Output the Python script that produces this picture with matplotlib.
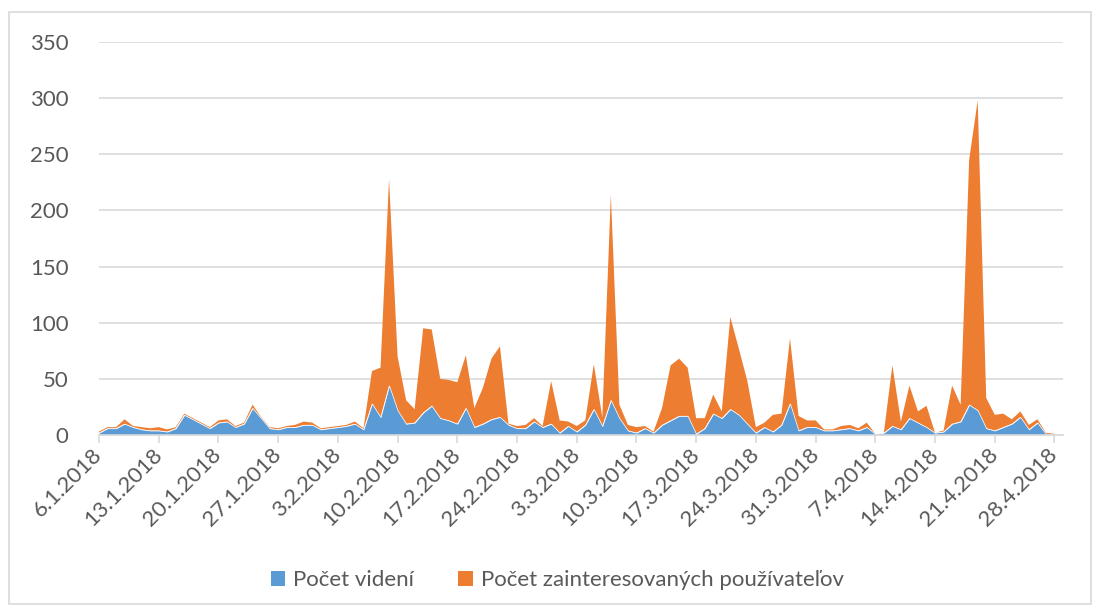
import numpy as np
import pandas as pd
import matplotlib
matplotlib.use('Agg')
import matplotlib.pyplot as plt
from matplotlib.patches import Patch, Rectangle

# Denné hodnoty od 6.1.2018 do 28.4.2018
dates = pd.date_range('2018-01-06', '2018-04-28', freq='D')

videnia = [
    2, 6, 6, 10, 7, 5, 4, 4, 3, 6, 18, 14, 10, 6, 11, 12, 7, 10, 24, 15,
    6, 5, 7, 7, 9, 9, 5, 6, 7, 8, 10, 5, 28, 16, 44, 22, 10, 11, 20, 26,
    15, 13, 10, 24, 7, 10, 14, 16, 9, 6, 6, 12, 7, 10, 2, 8, 3, 9, 23, 8,
    31, 15, 4, 2, 6, 2, 9, 13, 17, 17, 1, 6, 19, 15, 23, 18, 10, 2, 7, 3,
    9, 28, 4, 7, 7, 4, 4, 5, 6, 4, 7, 1, 2, 8, 5, 15, 11, 7, 2, 3,
    10, 12, 27, 22, 6, 4, 7, 10, 16, 5, 11, 1, 0,
]
zainteresovani = [
    1, 1, 1, 4, 1, 2, 2, 3, 2, 1, 1, 1, 1, 1, 2, 2, 1, 1, 3, 1,
    1, 1, 1, 2, 3, 2, 1, 1, 1, 1, 2, 1, 29, 44, 184, 48, 21, 12, 75, 68,
    35, 36, 37, 47, 17, 32, 54, 63, 1, 2, 3, 3, 1, 38, 11, 4, 5, 4, 40, 8,
    183, 12, 5, 5, 2, 1, 15, 49, 51, 43, 14, 9, 17, 6, 82, 59, 38, 5, 4, 15,
    10, 58, 13, 6, 6, 1, 1, 3, 3, 2, 4, 0, 0, 54, 7, 29, 10, 19, 0, 1,
    34, 15, 218, 276, 27, 14, 12, 4, 5, 4, 3, 1, 1,
]

series_names = ['Počet videní', 'Počet zainteresovaných používateľov']
colors = ['#5B9BD5', '#ED7D31']
text_color = '#595959'
grid_color = '#D9D9D9'

plt.rcParams['font.family'] = ['Lato', 'DejaVu Sans']

fig = plt.figure(figsize=(11.01, 6.12), dpi=100)
ax = fig.add_axes([99 / 1101, 1 - 435 / 612, 964 / 1101, 393 / 612])

x = np.arange(len(dates))
polys = ax.stackplot(x, videnia, zainteresovani, colors=colors,
                     edgecolor='none', linewidth=0, zorder=3)
# tenká svetlá hranica medzi modrou a oranžovou plochou
polys[0].set_edgecolor('white')
polys[0].set_linewidth(0.5)
polys[0].set_zorder(4)

ax.set_xlim(0, len(dates))
ax.set_ylim(0, 350)
ax.set_yticks(range(0, 351, 50))
ax.grid(axis='y', color=grid_color, linewidth=1.2, zorder=0)

tick_pos = x[::7]
ax.set_xticks(tick_pos)
ax.set_xticklabels([f'{d.day}.{d.month}.{d.year}' for d in dates[::7]],
                   rotation=45, ha='right', va='center', rotation_mode='anchor')

for side in ['top', 'right', 'left']:
    ax.spines[side].set_visible(False)
ax.spines['bottom'].set_color(grid_color)
ax.spines['bottom'].set_linewidth(1.2)
ax.spines['bottom'].set_zorder(5)
ax.tick_params(axis='x', length=6, width=1.2, color=grid_color,
               labelcolor=text_color, labelsize=16, pad=6)
ax.tick_params(axis='y', length=0, labelcolor=text_color, labelsize=16, pad=22)

# rámik okolo celého grafu
fig.patches.append(Rectangle((9 / 1101, 1 - 604 / 612), 1082 / 1101, 592 / 612,
                             transform=fig.transFigure, fill=False,
                             edgecolor=grid_color, linewidth=1.2))

handles = [Patch(facecolor=c, edgecolor='none') for c in colors]
fig.legend(handles, series_names, loc='center', bbox_to_anchor=(0.506, 1 - 580 / 612),
           ncol=2, frameon=False, fontsize=16, labelcolor=text_color,
           handlelength=0.65, handleheight=0.65, handletextpad=0.35,
           columnspacing=2.0)

fig.savefig('out.png', dpi=100)
